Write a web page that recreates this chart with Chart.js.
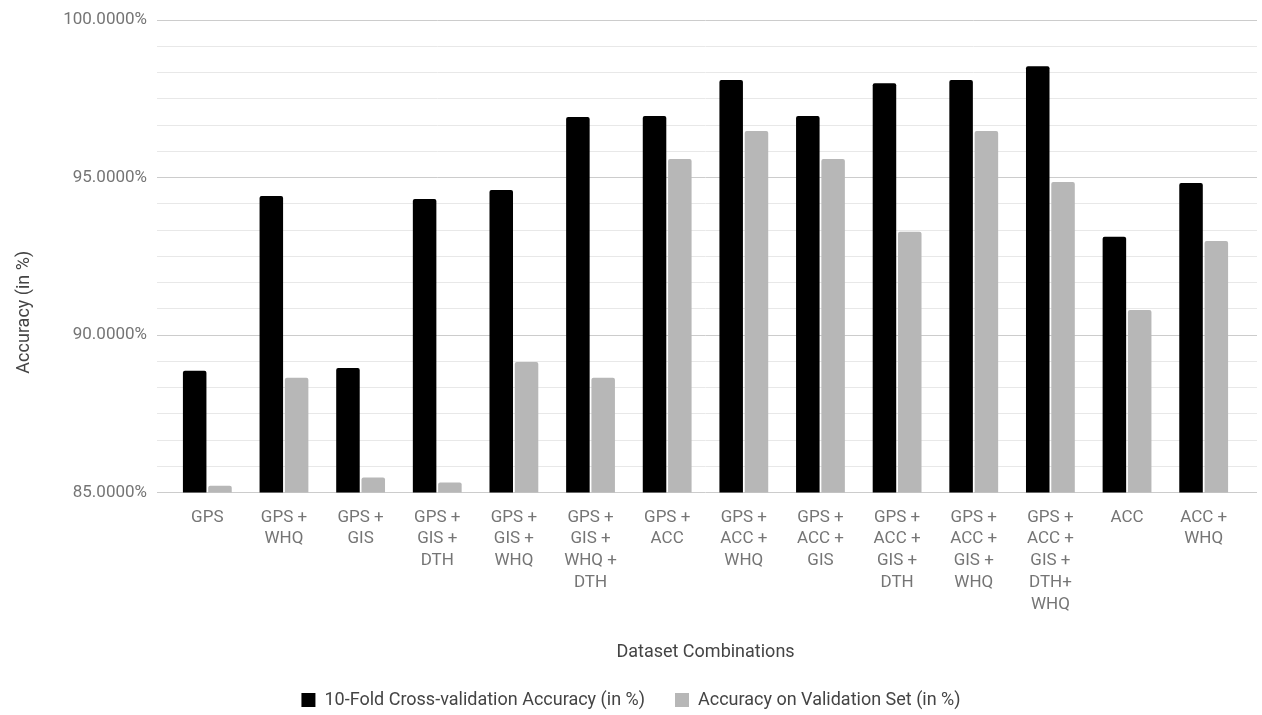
<!DOCTYPE html>
<html>
<head>
<meta charset="utf-8">
<script src="https://cdn.jsdelivr.net/npm/chart.js@4/dist/chart.umd.min.js"></script>
<style>
  html, body { margin: 0; padding: 0; background: #fff; }
  #wrap { width: 1262px; height: 715px; }
</style>
</head>
<body>
<div id="wrap"><canvas id="chart"></canvas></div>
<script>
// categories (one array of lines per label)
const categories = [
    ['GPS'],
    ['GPS +', 'WHQ'],
    ['GPS +', 'GIS'],
    ['GPS +', 'GIS +', 'DTH'],
    ['GPS +', 'GIS +', 'WHQ'],
    ['GPS +', 'GIS +', 'WHQ +', 'DTH'],
    ['GPS +', 'ACC'],
    ['GPS +', 'ACC +', 'WHQ'],
    ['GPS +', 'ACC +', 'GIS'],
    ['GPS +', 'ACC +', 'GIS +', 'DTH'],
    ['GPS +', 'ACC +', 'GIS +', 'WHQ'],
    ['GPS +', 'ACC +', 'GIS +', 'DTH+', 'WHQ'],
    ['ACC'],
    ['ACC +', 'WHQ']
];

// 10-fold cross-validation accuracy (%)
const crossValAccuracy = [88.87, 94.42, 88.96, 94.32, 94.61, 96.93, 96.96, 98.10, 96.96, 98.00, 98.10, 98.54, 93.12, 94.83];

// accuracy on validation set (%)
const validationAccuracy = [85.22, 88.65, 85.48, 85.32, 89.15, 88.65, 95.59, 96.48, 95.59, 93.28, 96.48, 94.86, 90.80, 92.99];

const seriesLabels = ['10-Fold Cross-validation Accuracy (in %)', 'Accuracy on Validation Set (in %)'];

const Y_MIN = 85;
const Y_MAX = 100;
const Y_STEP = 5 / 6;

const FONT = 'Roboto, "Noto Sans", sans-serif';

const isMajor = v => Math.abs(v / 5 - Math.round(v / 5)) < 1e-6;
const gridColor = ctx => (ctx.tick && isMajor(ctx.tick.value)) ? '#cccccc' : '#e8e8e8';

// the y title sits below the middle of the axis in the original, trailing spaces push it down
const yTitle = 'Accuracy (in %)' + ' '.repeat(25);

new Chart(document.getElementById('chart'), {
    type: 'bar',
    data: {
        labels: categories,
        datasets: [
            {
                label: seriesLabels[0],
                data: crossValAccuracy,
                backgroundColor: '#000000',
                borderRadius: 2,
                categoryPercentage: 0.66,
                barPercentage: 0.93
            },
            {
                label: seriesLabels[1],
                data: validationAccuracy,
                backgroundColor: '#b7b7b7',
                borderRadius: 2,
                categoryPercentage: 0.66,
                barPercentage: 0.93
            }
        ]
    },
    options: {
        responsive: true,
        maintainAspectRatio: false,
        animation: false,
        layout: { padding: { top: 10, left: 0, right: 0, bottom: -4 } },
        plugins: {
            tooltip: { enabled: false },
            legend: {
                position: 'bottom',
                labels: {
                    boxWidth: 14,
                    boxHeight: 14,
                    padding: 30,
                    color: '#444',
                    font: { family: FONT, size: 18 }
                }
            }
        },
        scales: {
            x: {
                grid: { display: false },
                border: { display: false },
                ticks: {
                    color: '#757575',
                    padding: 6,
                    maxRotation: 0,
                    autoSkip: false,
                    font: { family: FONT, size: 17, lineHeight: 1.28 }
                },
                title: {
                    display: true,
                    text: 'Dataset Combinations',
                    color: '#444',
                    padding: { top: 20, bottom: -2 },
                    font: { family: FONT, size: 18 }
                }
            },
            y: {
                min: Y_MIN,
                max: Y_MAX,
                position: 'left',
                border: { display: false },
                grid: {
                    color: gridColor,
                    tickColor: gridColor,
                    tickLength: 12,
                    lineWidth: 1
                },
                ticks: {
                    stepSize: Y_STEP,
                    autoSkip: false,
                    padding: 10,
                    color: '#757575',
                    font: { family: FONT, size: 17 },
                    callback: v => isMajor(v) ? v.toFixed(4) + '%' : ''
                },
                title: {
                    display: true,
                    text: yTitle,
                    color: '#444',
                    padding: { top: 14, bottom: 0 },
                    font: { family: FONT, size: 18 }
                },
                afterFit: scale => { scale.width = 169; }
            },
            yRight: {
                min: Y_MIN,
                max: Y_MAX,
                position: 'right',
                border: { display: false },
                grid: {
                    drawOnChartArea: false,
                    color: gridColor,
                    tickColor: gridColor,
                    tickLength: 15
                },
                ticks: { stepSize: Y_STEP, display: false },
                afterFit: scale => { scale.width = 20; }
            }
        }
    }
});
</script>
</body>
</html>
